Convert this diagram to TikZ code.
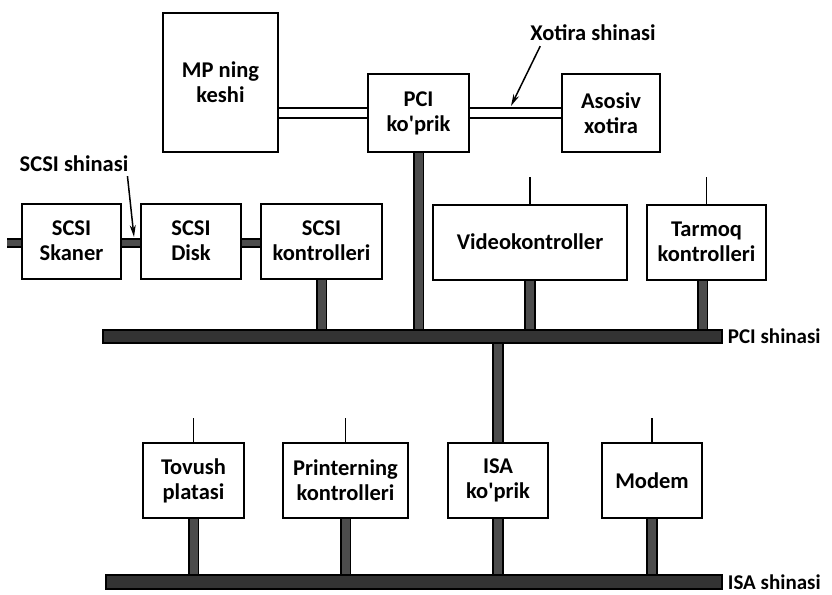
\documentclass[tikz,border=0pt]{standalone}
\usepackage{fontspec}
\setmainfont{Carlito}
\usetikzlibrary{positioning,arrows.meta}
\newcommand{\shrift}{\fontsize{22.5}{25}\selectfont\bfseries}
\newcommand{\kichikshrift}{\fontsize{21}{24}\selectfont\bfseries}
\tikzset{
  blok/.style={draw, line width=2pt, align=center, font=\shrift, inner sep=2pt},
  shina/.style={draw, line width=1.5pt, fill=black!80, inner sep=0pt},
  ulanish/.style={draw=black, line width=1.6pt, double=black!70, double distance=8pt},
  xotshina/.style={draw=black, line width=2pt, double=white, double distance=8pt},
  ingichka/.style={line width=1.5pt},
  kors/.style={line width=1.5pt, -{Stealth[length=12pt,width=6pt]}},
  yozuv/.style={font=\shrift, inner sep=0pt},
  shinanom/.style={font=\kichikshrift, inner sep=0pt}
}
\begin{document}
\begin{tikzpicture}[x=1pt,y=-1pt]
        \useasboundingbox (0,0) rectangle (832,594);
        %protsessor va xotira
        \node[blok, minimum width=115, minimum height=139] (keshi) at (220.5,82.5) {MP ning\\keshi};
        \node[blok, minimum width=101, minimum height=78] (pcik) at (418.5,113) {PCI\\ko\textquotesingle prik};
        \node[blok, minimum width=98, minimum height=78] (xotira) at (611,113) {Asosiv\\xotira};
        \draw[xotshina] (keshi.east |- pcik.west) -- (pcik.west);
        \draw[xotshina] (pcik.east) -- (xotira.west);
        \node[yozuv] (xotnom) at (593,33) {Xotira shinasi};
        \coordinate (xotuch) at (511,106);
        \draw[kors] ([xshift=10pt,yshift=-5pt]xotnom.south west) -- (xotuch);
        %SCSI qurilmalar
        \node[blok, minimum width=99, minimum height=75] (skaner) at (71.5,241) {SCSI\\Skaner};
        \node[blok, minimum width=100, minimum height=75] (disk) at (191,241) {SCSI\\Disk};
        \node[blok, minimum width=121, minimum height=75] (scsik) at (321.5,241) {SCSI\\kontrolleri};
        \draw[ulanish, double distance=6pt] ([yshift=-2pt]skaner.west) -- ++(-14,0);
        \draw[ulanish, double distance=6pt] ([yshift=-2pt]skaner.east) -- ([yshift=-2pt]disk.west);
        \draw[ulanish, double distance=6pt] ([yshift=-2pt]disk.east) -- ([yshift=-2pt]scsik.west);
        \node[yozuv] (scsinom) at (74,164) {SCSI shinasi};
        \coordinate (scsiuch) at (134,237);
        \draw[kors] ([xshift=-1pt,yshift=-4pt]scsinom.south east) -- (scsiuch);
        %PCI qurilmalar
        \node[blok, minimum width=194, minimum height=75] (video) at (530,242) {Videokontroller};
        \node[blok, minimum width=119, minimum height=75] (tarmoq) at (706.5,242) {Tarmoq\\kontrolleri};
        \draw[ingichka] (video.north) -- ++(0,-27);
        \draw[ingichka] (tarmoq.north) -- ++(0,-27);
        %PCI shinasi
        \node[shina, minimum width=619, minimum height=13] (pcishina) at (412.5,336.5) {};
        \node[shinanom, right=5pt of pcishina] (pcinom) {PCI shinasi};
        \draw[ulanish] (scsik.south) -- (scsik.south |- pcishina.north);
        \draw[ulanish] (pcik.south) -- (pcik.south |- pcishina.north);
        \draw[ulanish] (video.south) -- (video.south |- pcishina.north);
        \draw[ulanish] ([xshift=-4pt]tarmoq.south) -- ([xshift=-4pt]tarmoq.south |- pcishina.north);
        %ISA qurilmalar
        \node[blok, minimum width=101, minimum height=75] (tovush) at (193.5,480.5) {Tovush\\platasi};
        \node[blok, minimum width=125, minimum height=75] (printer) at (345.5,480.5) {Printerning\\kontrolleri};
        \node[blok, minimum width=100, minimum height=75] (isak) at (498,480.5) {ISA\\ko\textquotesingle prik};
        \node[blok, minimum width=100, minimum height=75] (modem) at (652,480.5) {Modem};
        \draw[ulanish] (pcishina.south -| isak.north) -- (isak.north);
        \draw[ingichka] (tovush.north) -- ++(0,-24);
        \draw[ingichka] (printer.north) -- ++(0,-24);
        \draw[ingichka] (modem.north) -- ++(0,-24);
        %ISA shinasi
        \node[shina, minimum width=616, minimum height=14] (isashina) at (414,582) {};
        \node[shinanom, right=5pt of isashina] (isanom) {ISA shinasi};
        \draw[ulanish] (tovush.south) -- (tovush.south |- isashina.north);
        \draw[ulanish] (printer.south) -- (printer.south |- isashina.north);
        \draw[ulanish] (isak.south) -- (isak.south |- isashina.north);
        \draw[ulanish] (modem.south) -- (modem.south |- isashina.north);
\end{tikzpicture}
\end{document}
